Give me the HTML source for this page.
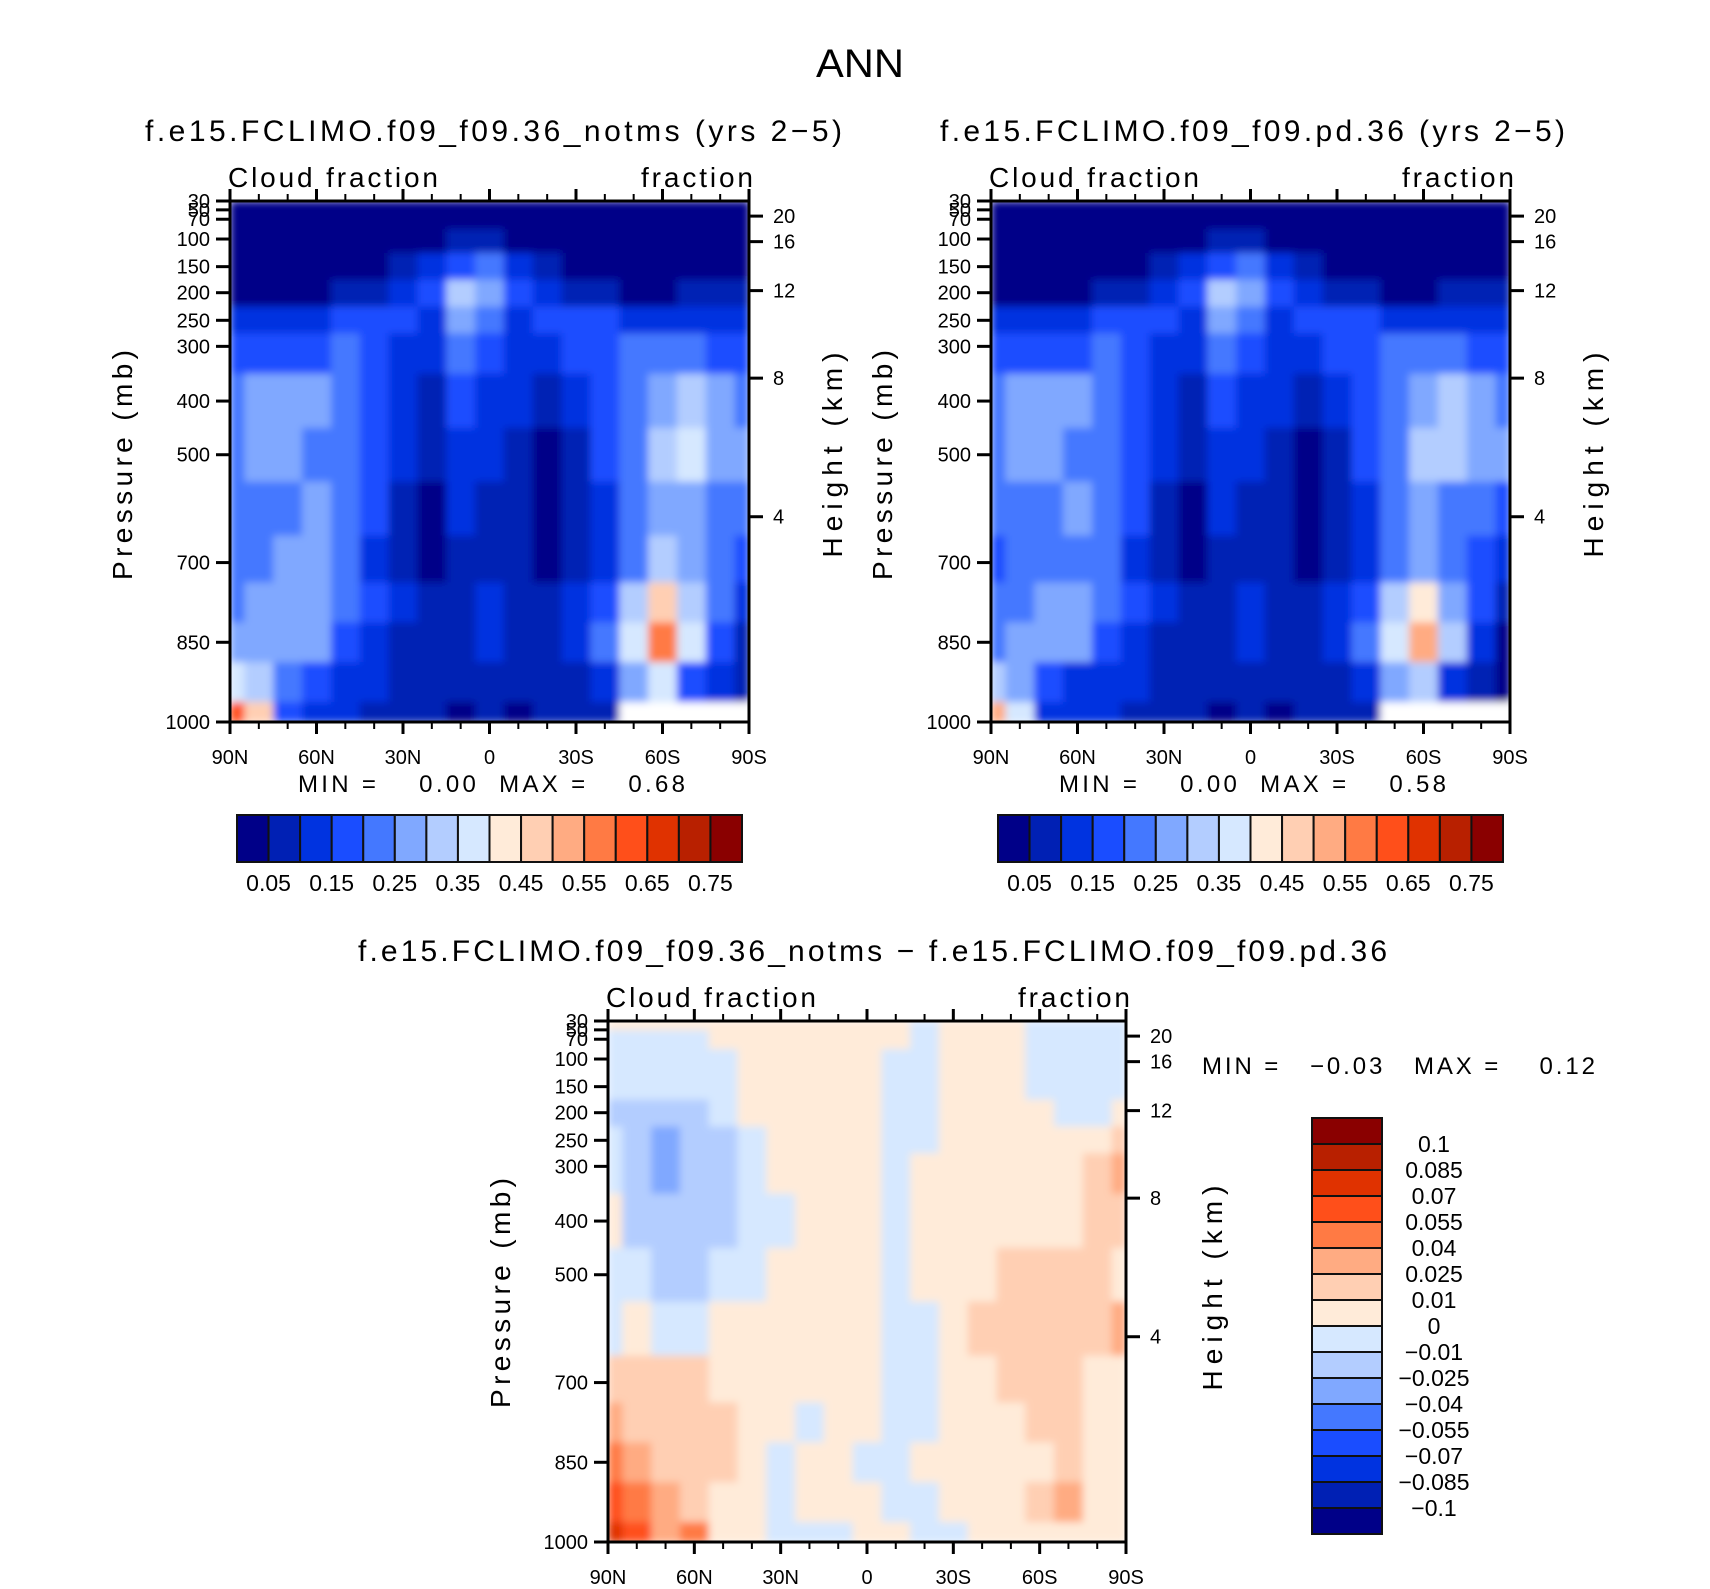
<!DOCTYPE html>
<html><head><meta charset="utf-8"><style>
html,body{margin:0;padding:0;background:#fff}
svg{display:block}
text{font-family:"Liberation Sans",sans-serif;fill:#000}
</style></head><body>
<svg id="fig" width="1710" height="1589" viewBox="0 0 1710 1589" xmlns="http://www.w3.org/2000/svg">
<defs>
<filter id="sm" x="0" y="0" width="1" height="1"><feGaussianBlur stdDeviation="4" edgeMode="duplicate"/></filter>
</defs>
<text x="860" y="77" font-size="40" text-anchor="middle" textLength="88" lengthAdjust="spacingAndGlyphs">ANN</text>
</svg>
<script>
// ---- data ----
const lats = [90,80,70,60,50,40,30,20,10,0,-10,-20,-30,-40,-50,-60,-70,-80,-90];
const levels = [30,70,100,150,200,250,300,400,500,600,700,775,850,925,1000];
const pTicks = [30,50,70,100,150,200,250,300,400,500,700,850,1000];
const pFrac = [0,0.017,0.035,0.073,0.126,0.176,0.229,0.279,0.384,0.487,0.694,0.847,1];
const hTicks = [20,16,12,8,4];
const hFrac = [0.029,0.078,0.172,0.34,0.606];
const latTicks = [90,60,30,0,-30,-60,-90];
const latLabels = ["90N","60N","30N","0","30S","60S","90S"];
const cbLevels = [0.05,0.1,0.15,0.2,0.25,0.3,0.35,0.4,0.45,0.5,0.55,0.6,0.65,0.7,0.75];
const cbLabels = ["0.05","0.15","0.25","0.35","0.45","0.55","0.65","0.75"];
const diffLevels = [-0.1,-0.085,-0.07,-0.055,-0.04,-0.025,-0.01,0,0.01,0.025,0.04,0.055,0.07,0.085,0.1];
const diffLabels = ["0.1","0.085","0.07","0.055","0.04","0.025","0.01","0","\u22120.01","\u22120.025","\u22120.04","\u22120.055","\u22120.07","\u22120.085","\u22120.1"];
const colors = ["#000088","#0020b4","#0033e0","#1a4dff","#4478ff","#80a8ff","#b3cdff","#d6e8ff","#ffebd9","#ffcfb3","#ffab82","#ff7a44","#ff4f1a","#e03200","#b82000","#8a0000"];

const cloudA = [
[0.02,0.02,0.02,0.02,0.02,0.02,0.02,0.02,0.02,0.02,0.02,0.02,0.02,0.02,0.02,0.02,0.02,0.02,0.02],
[0.02,0.02,0.02,0.02,0.02,0.02,0.02,0.02,0.02,0.02,0.02,0.02,0.02,0.02,0.02,0.02,0.02,0.02,0.02],
[0.02,0.02,0.02,0.02,0.02,0.02,0.02,0.02,0.07,0.07,0.02,0.02,0.02,0.02,0.02,0.02,0.02,0.02,0.02],
[0.02,0.02,0.02,0.02,0.02,0.02,0.07,0.12,0.17,0.22,0.12,0.07,0.02,0.02,0.02,0.02,0.02,0.02,0.02],
[0.02,0.02,0.02,0.02,0.07,0.07,0.12,0.17,0.32,0.27,0.17,0.12,0.07,0.07,0.02,0.02,0.07,0.07,0.07],
[0.12,0.12,0.12,0.12,0.17,0.17,0.17,0.12,0.27,0.22,0.12,0.17,0.17,0.17,0.12,0.12,0.12,0.12,0.12],
[0.17,0.17,0.17,0.17,0.22,0.17,0.12,0.12,0.22,0.17,0.12,0.12,0.17,0.17,0.22,0.22,0.22,0.17,0.17],
[0.22,0.27,0.27,0.27,0.22,0.17,0.12,0.07,0.17,0.12,0.12,0.07,0.12,0.17,0.22,0.27,0.32,0.27,0.22],
[0.22,0.27,0.27,0.22,0.22,0.17,0.12,0.07,0.12,0.12,0.07,0.02,0.07,0.17,0.22,0.32,0.37,0.27,0.27],
[0.22,0.22,0.22,0.27,0.22,0.17,0.07,0.02,0.12,0.07,0.07,0.02,0.07,0.12,0.22,0.27,0.27,0.22,0.22],
[0.22,0.22,0.27,0.27,0.22,0.12,0.07,0.02,0.07,0.07,0.07,0.02,0.07,0.12,0.22,0.32,0.27,0.22,0.17],
[0.22,0.27,0.27,0.27,0.22,0.17,0.12,0.07,0.07,0.12,0.07,0.07,0.12,0.17,0.32,0.47,0.32,0.22,0.12],
[0.27,0.27,0.27,0.27,0.17,0.12,0.07,0.07,0.07,0.12,0.07,0.07,0.12,0.22,0.37,0.57,0.37,0.17,0.07],
[0.37,0.32,0.22,0.17,0.12,0.12,0.07,0.07,0.07,0.07,0.07,0.07,0.07,0.12,0.27,0.37,0.17,0.12,0.07],
[0.62,0.47,0.17,0.12,0.12,0.07,0.07,0.07,0.02,0.07,0.02,0.07,0.07,0.07,null,null,null,null,null]];
const cloudB = [
[0.02,0.02,0.02,0.02,0.02,0.02,0.02,0.02,0.02,0.02,0.02,0.02,0.02,0.02,0.02,0.02,0.02,0.02,0.02],
[0.02,0.02,0.02,0.02,0.02,0.02,0.02,0.02,0.02,0.02,0.02,0.02,0.02,0.02,0.02,0.02,0.02,0.02,0.02],
[0.02,0.02,0.02,0.02,0.02,0.02,0.02,0.02,0.07,0.07,0.02,0.02,0.02,0.02,0.02,0.02,0.02,0.02,0.02],
[0.02,0.02,0.02,0.02,0.02,0.02,0.07,0.12,0.17,0.22,0.12,0.07,0.02,0.02,0.02,0.02,0.02,0.02,0.02],
[0.02,0.02,0.02,0.02,0.07,0.07,0.12,0.17,0.32,0.27,0.17,0.12,0.07,0.07,0.02,0.02,0.07,0.07,0.07],
[0.12,0.12,0.12,0.12,0.17,0.17,0.17,0.12,0.27,0.22,0.12,0.17,0.17,0.17,0.12,0.12,0.12,0.12,0.12],
[0.17,0.17,0.17,0.17,0.22,0.17,0.12,0.12,0.22,0.17,0.12,0.12,0.17,0.17,0.22,0.22,0.22,0.17,0.17],
[0.22,0.27,0.27,0.27,0.22,0.17,0.12,0.07,0.17,0.12,0.12,0.07,0.12,0.17,0.22,0.27,0.32,0.27,0.22],
[0.22,0.27,0.27,0.22,0.22,0.17,0.12,0.07,0.12,0.12,0.07,0.02,0.07,0.17,0.22,0.32,0.32,0.27,0.27],
[0.22,0.22,0.22,0.27,0.22,0.17,0.07,0.02,0.12,0.07,0.07,0.02,0.07,0.12,0.22,0.27,0.22,0.22,0.17],
[0.17,0.22,0.22,0.22,0.22,0.12,0.07,0.02,0.07,0.07,0.07,0.02,0.07,0.12,0.22,0.27,0.22,0.17,0.12],
[0.22,0.22,0.27,0.27,0.22,0.17,0.12,0.07,0.07,0.12,0.07,0.07,0.12,0.17,0.32,0.42,0.27,0.17,0.07],
[0.22,0.27,0.27,0.27,0.17,0.12,0.07,0.07,0.07,0.12,0.07,0.07,0.12,0.22,0.37,0.52,0.32,0.12,0.02],
[0.32,0.27,0.17,0.12,0.12,0.12,0.07,0.07,0.07,0.07,0.07,0.07,0.07,0.12,0.27,0.32,0.12,0.07,0.02],
[0.52,0.37,0.12,0.12,0.12,0.07,0.07,0.07,0.02,0.07,0.02,0.07,0.07,0.07,null,null,null,null,null]];
const diff = [
[0.005,0.005,0.005,0.005,0.005,0.005,0.005,0.005,0.005,0.005,0.005,-0.005,0.005,0.005,0.005,-0.005,-0.005,-0.005,-0.005],
[-0.005,-0.005,-0.005,-0.005,0.005,0.005,0.005,0.005,0.005,0.005,0.005,-0.005,0.005,0.005,0.005,-0.005,-0.005,-0.005,-0.005],
[-0.005,-0.005,-0.005,-0.005,-0.005,0.005,0.005,0.005,0.005,0.005,-0.005,-0.005,0.005,0.005,0.005,-0.005,-0.005,-0.005,-0.005],
[-0.005,-0.005,-0.005,-0.005,-0.005,0.005,0.005,0.005,0.005,0.005,-0.005,-0.005,0.005,0.005,0.005,-0.005,-0.005,-0.005,-0.005],
[-0.015,-0.015,-0.015,-0.015,-0.005,0.005,0.005,0.005,0.005,0.005,-0.005,-0.005,0.005,0.005,0.005,0.005,-0.005,-0.005,0.005],
[-0.005,-0.015,-0.03,-0.015,-0.015,-0.005,0.005,0.005,0.005,0.005,-0.005,-0.005,0.005,0.005,0.005,0.005,0.005,0.005,0.015],
[-0.005,-0.015,-0.03,-0.015,-0.015,-0.005,0.005,0.005,0.005,0.005,-0.005,0.005,0.005,0.005,0.005,0.005,0.005,0.015,0.03],
[0.005,-0.015,-0.015,-0.015,-0.015,-0.005,-0.005,0.005,0.005,0.005,-0.005,0.005,0.005,0.005,0.005,0.005,0.005,0.015,0.015],
[-0.005,-0.005,-0.015,-0.015,-0.005,-0.005,0.005,0.005,0.005,0.005,-0.005,0.005,0.005,0.005,0.015,0.015,0.015,0.015,0.005],
[-0.005,0.005,-0.005,-0.005,0.005,0.005,0.005,0.005,0.005,0.005,-0.005,-0.005,0.005,0.015,0.015,0.015,0.015,0.015,0.03],
[0.015,0.015,0.015,0.015,0.005,0.005,0.005,0.005,0.005,0.005,-0.005,-0.005,0.005,0.005,0.015,0.015,0.015,0.005,0.005],
[0.03,0.015,0.015,0.015,0.015,0.005,0.005,-0.005,0.005,0.005,-0.005,-0.005,0.005,0.005,0.005,0.015,0.015,0.005,0.005],
[0.045,0.03,0.015,0.015,0.015,0.005,-0.005,0.005,0.005,-0.005,-0.005,0.005,0.005,0.005,0.005,0.005,0.015,0.005,0.005],
[0.06,0.045,0.03,0.015,0.005,0.005,-0.005,0.005,0.005,0.005,-0.005,-0.005,0.005,0.005,0.005,0.015,0.03,0.005,0.005],
[0.08,0.06,0.03,0.045,0.005,0.005,-0.005,-0.005,-0.005,0.005,0.005,-0.005,-0.005,0.005,0.005,0.005,0.005,0.005,0.005]];

// ---- drawing ----
const NS = "http://www.w3.org/2000/svg";
const svg = document.getElementById("fig");
function mk(tag, attrs, parent){const e=document.createElementNS(NS,tag);for(const k in attrs)e.setAttribute(k,attrs[k]);(parent||svg).appendChild(e);return e;}
function interp(v, xs, ys){
  for(let i=0;i<xs.length-1;i++){const a=xs[i],b=xs[i+1];if((v-a)*(v-b)<=0){return ys[i]+(ys[i+1]-ys[i])*(v-a)/(b-a);}}
  return v<xs[0]?ys[0]:ys[ys.length-1];
}
function pFracOf(p){return interp(p,pTicks,pFrac);}
function colorIdx(v, bounds){let k=0;for(const b of bounds){if(v>=b)k++;}return k;}

function panel(P){
  const {x0,y0,w,h,data,bounds,title,titleX,titleY,name} = P;
  const X = lat => x0 + (90-lat)/180*w;
  const Y = p => y0 + pFracOf(p)*h;
  const g = mk("g",{});
  
  
  const clip = mk("clipPath",{id:"clip-"+name},g);
  mk("rect",{x:x0,y:y0,width:w,height:h},clip);
  const cg = mk("g",{"clip-path":"url(#clip-"+name+")"},g);
  const fg = mk("g",{filter:"url(#sm)"},cg);
  for(let i=0;i<levels.length;i++){
    const ya = i===0? y0 : (Y(levels[i-1])+Y(levels[i]))/2;
    const yb = i===levels.length-1? y0+h : (Y(levels[i])+Y(levels[i+1]))/2;
    for(let j=0;j<lats.length;j++){
      const v = data[i][j];
      const xa = j===0? x0 : (X(lats[j-1])+X(lats[j]))/2;
      const xb = j===lats.length-1? x0+w : (X(lats[j])+X(lats[j+1]))/2;
      const r = mk("rect",{x:xa,y:ya,width:xb-xa+0.6,height:yb-ya+0.6,fill: v===null?"#ffffff":colors[colorIdx(v,bounds)]},fg);
      
      
    }
  }
  mk("rect",{x:x0,y:y0,width:w,height:h,fill:"none",stroke:"#000","stroke-width":3},g);
  for(let lat=90;lat>=-90;lat-=10){
    const major = lat%30===0;
    const x=X(lat), L = major?12:7;
    mk("line",{x1:x,y1:y0+h,x2:x,y2:y0+h+L,stroke:"#000","stroke-width":major?3:2},g);
    mk("line",{x1:x,y1:y0,x2:x,y2:y0-L,stroke:"#000","stroke-width":major?3:2},g);
  }
  latTicks.forEach((lat,k)=>{
    const t=mk("text",{x:X(lat),y:y0+h+42,"font-size":20,"text-anchor":"middle"},g);
    t.textContent=latLabels[k];
    
    
  });
  pTicks.forEach(p=>{
    const y=Y(p);
    mk("line",{x1:x0-14,y1:y,x2:x0,y2:y,stroke:"#000","stroke-width":3},g);
    const t=mk("text",{x:x0-20,y:y+7,"font-size":20,"text-anchor":"end"},g);
    t.textContent=String(p);
    
    
  });
  hTicks.forEach((hv,k)=>{
    const y=y0+hFrac[k]*h;
    mk("line",{x1:x0+w,y1:y,x2:x0+w+14,y2:y,stroke:"#000","stroke-width":3},g);
    const t=mk("text",{x:x0+w+24,y:y+7,"font-size":20},g);
    t.textContent=String(hv);
    
    
  });
  let t=mk("text",{x:x0-2,y:y0-14,"font-size":28,textLength:210,lengthAdjust:"spacing"},g); t.textContent="Cloud fraction";
  
  
  t=mk("text",{x:x0+w+4-112,y:y0-14,"font-size":28,textLength:112,lengthAdjust:"spacing"},g); t.textContent="fraction";
  
  
  t=mk("text",{x:titleX,y:titleY,"font-size":30,textLength:P.titleW,lengthAdjust:"spacing"},g); t.textContent=title;
  
  
  t=mk("text",{x:0,y:0,"font-size":28,"text-anchor":"middle",textLength:230,lengthAdjust:"spacing",transform:`translate(${P.pLabX},${P.pLabY}) rotate(-90)`},g); t.textContent="Pressure (mb)";
  
  
  t=mk("text",{x:0,y:0,"font-size":28,"text-anchor":"middle",textLength:205,lengthAdjust:"spacing",transform:`translate(${P.hLabX},${P.hLabY}) rotate(-90)`},g); t.textContent="Height (km)";
  
  
  t=mk("text",{x:P.mmX,y:P.mmY,"font-size":24,textLength:P.mmW,lengthAdjust:"spacing"},g);
  t.setAttribute("style","white-space:pre");
  t.textContent=P.mm;
  
  
}

function hbar(x0,y0,w,h,name){
  const g=mk("g",{});  
  const n=colors.length, bw=w/n;
  colors.forEach((c,i)=>{
    const r=mk("rect",{x:x0+i*bw,y:y0,width:bw,height:h,fill:c,stroke:"#111","stroke-width":2},g);
    
    
  });
  cbLevels.forEach((lv,i)=>{
    if(i%2) return;
    const t=mk("text",{x:x0+(i+1)*bw,y:y0+h+29,"font-size":23,"text-anchor":"middle"},g);
    t.textContent=cbLabels[i/2];
    
    
  });
}

panel({x0:230,y0:201,w:519,h:521,data:cloudA,bounds:cbLevels,name:"panel-notms",
  title:"f.e15.FCLIMO.f09_f09.36_notms (yrs 2\u22125)",titleX:145,titleY:141,titleW:697,
  pLabX:132,pLabY:465,hLabX:842,hLabY:455,mmX:298,mmY:792,mmW:387,mm:"MIN =    0.00  MAX =    0.68"});
panel({x0:991,y0:201,w:519,h:521,data:cloudB,bounds:cbLevels,name:"panel-pd",
  title:"f.e15.FCLIMO.f09_f09.pd.36 (yrs 2\u22125)",titleX:940,titleY:141,titleW:625,
  pLabX:892,pLabY:465,hLabX:1603,hLabY:455,mmX:1059,mmY:792,mmW:387,mm:"MIN =    0.00  MAX =    0.58"});
panel({x0:608,y0:1021,w:518,h:521,data:diff,bounds:diffLevels,name:"panel-diff",
  title:"f.e15.FCLIMO.f09_f09.36_notms \u2212 f.e15.FCLIMO.f09_f09.pd.36",titleX:358,titleY:961,titleW:1029,
  pLabX:510,pLabY:1293,hLabX:1222,hLabY:1288,mmX:1202,mmY:1074,mmW:393,mm:"MIN =   \u22120.03   MAX =    0.12"});
hbar(237,815,505,47,"colorbar-left");
hbar(998,815,505,47,"colorbar-right");
(function(){
  const g=mk("g",{});  
  const x0=1312,y0=1118,w=70,bh=26,n=colors.length;
  for(let i=0;i<n;i++){
    const r=mk("rect",{x:x0,y:y0+i*bh,width:w,height:bh,fill:colors[n-1-i],stroke:"#111","stroke-width":2},g);
    
    
  }
  diffLabels.forEach((s,i)=>{
    const t=mk("text",{x:1434,y:y0+(i+1)*bh+8,"font-size":23,"text-anchor":"middle"},g);
    t.textContent=s;
    
    
  });
})();
</script>
</body></html>
